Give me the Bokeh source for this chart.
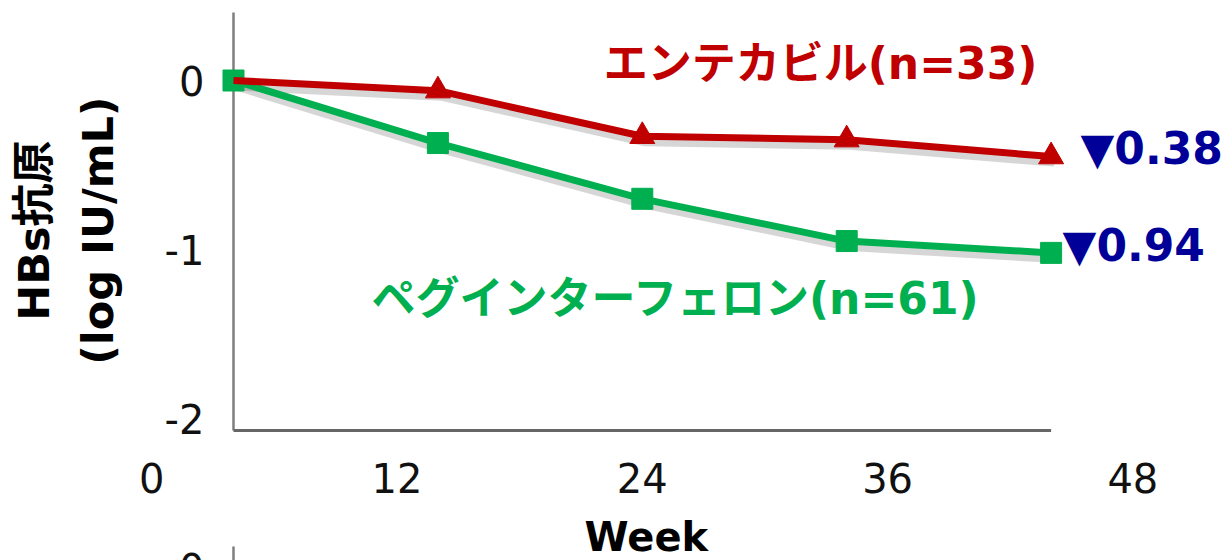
from math import pi
from bokeh.plotting import figure
from bokeh.models import Range1d, ColumnDataSource, CDSView, IndexFilter
from bokeh.core.properties import value
from bokeh.embed import file_html
from bokeh.resources import INLINE

# ---- data ----
weeks = [4, 14, 24, 34, 44]
entecavir = [0.0, -0.06, -0.33, -0.35, -0.45]
peg_ifn = [0.0, -0.37, -0.70, -0.95, -1.02]
x_ticks = [0, 12, 24, 36, 48]
y_ticks = [0, -1, -2]
entecavir_label = "エンテカビル(n=33)"
peg_label = "ペグインターフェロン(n=61)"
entecavir_drop = "▼0.38"
peg_drop = "▼0.94"
x_title = "Week"
y_title_lines = ["HBs抗原", "(log IU/mL)"]

RED = "#C00000"
GREEN = "#00B050"
NAVY = "#000099"
LATIN = value("DejaVu Sans")
MIXED = value("DejaVu Sans, Noto Sans CJK JP")

p = figure(width=1227, height=560,
           x_range=Range1d(-7.399, 52.63), y_range=Range1d(-2.8402, 0.4734),
           x_axis_type=None, y_axis_type=None,
           toolbar_location=None, output_backend="svg", min_border=0)
p.outline_line_color = None
p.background_fill_color = "white"
p.border_fill_color = "white"

# axis lines
axis_y_bottom = -2.071
p.segment(x0=[weeks[0]], y0=[0.402], x1=[weeks[0]], y1=[axis_y_bottom],
          line_color="#7f7f7f", line_width=2.5)
p.segment(x0=[weeks[0]], y0=[axis_y_bottom], x1=[weeks[-1]], y1=[axis_y_bottom],
          line_color="#666666", line_width=3)

# tick labels
p.text(x=x_ticks, y=[-2.352] * len(x_ticks), text=[str(t) for t in x_ticks],
       text_font=LATIN, text_font_size="40px", text_align="center",
       text_baseline="middle", text_color="#111111")
p.text(x=[2.58] * len(y_ticks), y=y_ticks, text=[str(t) for t in y_ticks],
       text_font=LATIN, text_font_size="40px", text_align="right",
       text_baseline="middle", text_color="#111111")

# axis titles
p.text(x=[24.2], y=[-2.70], text=[x_title], text_font=LATIN, text_font_size="40px",
       text_font_style="bold", text_align="center", text_baseline="middle",
       text_color="#000000")
p.text(x=[-5.74, -2.65], y=[-0.888, -0.888], text=y_title_lines, angle=pi / 2,
       text_font=MIXED, text_font_size="43px", text_font_style="bold",
       text_align="center", text_baseline="middle", text_color="#000000")

# shadows
dx, dy = 0.15, -0.03
p.line([w + dx for w in weeks], [v + dy for v in peg_ifn], line_color="black",
       line_alpha=0.16, line_width=10)
p.line([w + dx for w in weeks], [v + dy for v in entecavir], line_color="black",
       line_alpha=0.16, line_width=10)

# series
peg_src = ColumnDataSource(dict(x=weeks, y=peg_ifn))
ent_src = ColumnDataSource(dict(x=weeks, y=entecavir))
p.line("x", "y", source=peg_src, line_color=GREEN, line_width=7)
p.scatter("x", "y", source=peg_src, marker="square", size=21,
          fill_color=GREEN, line_color=GREEN)
p.line("x", "y", source=ent_src, line_color=RED, line_width=7)
p.scatter("x", "y", source=ent_src, view=CDSView(filter=IndexFilter(list(range(1, len(weeks))))),
          marker="triangle", size=25, fill_color=RED, line_color=RED)

# annotations
p.text(x=[32.72], y=[0.10], text=[entecavir_label], text_font=MIXED,
       text_font_size="44px", text_font_style="bold", text_align="center",
       text_baseline="middle", text_color=RED)
p.text(x=[25.67], y=[-1.29], text=[peg_label], text_font=MIXED,
       text_font_size="44px", text_font_style="bold", text_align="center",
       text_baseline="middle", text_color=GREEN)
p.text(x=[45.44, 44.56], y=[-0.40, -0.976], text=[entecavir_drop, peg_drop],
       text_font=LATIN, text_font_size="44px", text_font_style="bold",
       text_align="left", text_baseline="middle", text_color=NAVY)

# top of the next panel peeking in at the bottom edge
p.segment(x0=[weeks[0]], y0=[-2.757], x1=[weeks[0]], y1=[-2.85],
          line_color="#7f7f7f", line_width=2.5)
p.text(x=[2.58], y=[-2.885], text=["0"], text_font=LATIN, text_font_size="40px",
       text_align="right", text_baseline="middle", text_color="#111111")

open("out.html", "w").write(file_html(p, INLINE))
